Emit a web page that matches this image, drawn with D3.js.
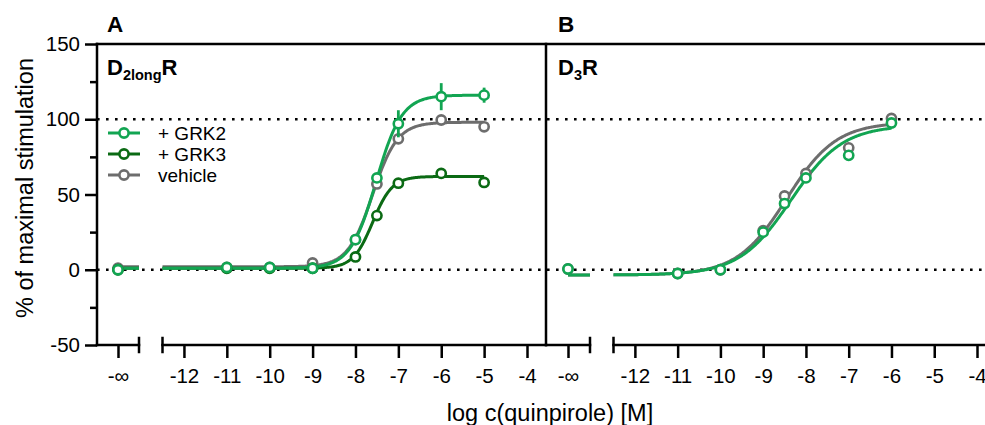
<!DOCTYPE html>
<html><head><meta charset="utf-8">
<script src="https://cdn.jsdelivr.net/npm/d3@7"></script>
<style>
html,body{margin:0;padding:0;background:#fff;}
svg{display:block;font-family:"Liberation Sans",Arial,Helvetica,sans-serif;}
</style></head>
<body><svg id="chart" width="985" height="425"></svg>
<script>
// ---------- DATA ----------
const seriesNames = ["+ GRK2", "+ GRK3", "vehicle"];
const seriesColors = ["#12a552", "#0b6a14", "#6d6d6d"];
const xTickLabels = [-12, -11, -10, -9, -8, -7, -6, -5, -4];
const yTickLabels = [-50, 0, 50, 100, 150];
const yMinorTicks = [-25, 25, 75, 125];
const infLabel = "-∞";

// Panel A: D2longR
const concA = ["-∞", -11, -10, -9, -8, -7.5, -7, -6, -5];
const grk2A = [0, 1.5, 1.5, 1, 20, 61, 97, 115, 116];
const grk2AErr = [0, 0, 0, 0, 0, 0, 9, 9, 5];
const grk3A = [0, 1, 1, 1, 8.5, 36, 57.5, 64, 58];
const vehA = [1, 1.5, 1.5, 4.5, 20, 57, 87, 99.5, 95];
// fitted sigmoid parameters [bottom, top, logEC50, hill]
const fitGrk2A = [1, 116, -7.52, 1.45];
const fitGrk3A = [1, 62, -7.6, 1.9];
const fitVehA = [2, 98, -7.6, 1.5];
const fitRangeA = [-12.5, -5];

// Panel B: D3R
const concB = ["-∞", -11, -10, -9, -8.5, -8, -7, -6];
const grk2B = [0.5, -2.5, 0, 25, 44, 61, 76, 97.5];
const vehB = [0.5, -2.5, 0, 26, 49, 64, 81, 100.5];
const fitGrk2B = [-3.5, 96, -8.35, 0.72];
const fitVehB = [-3.5, 98, -8.45, 0.75];
const fitRangeB = [-12.5, -6];

// ---------- DRAW ----------
const svg = d3.select("#chart");
const y = d3.scaleLinear().domain([-50, 150]).range([345, 44]);
const yBottom = y(-50), yTop = y(150);

const panels = [
  { left: 97, infEnd: 139, mainStart: 162.5, right: 546, axisEnd: 546, title: "A",
    recName: ["D", "2long", "R"], mainRange: [162.5, 527] },
  { left: 546, infEnd: 590, mainStart: 613.5, right: 985, axisEnd: 985, title: "B",
    recName: ["D", "3", "R"], mainRange: [613.5, 977] }
];
panels.forEach(p => {
  p.xMain = d3.scaleLinear().domain([-12.5, -4]).range(p.mainRange);
  p.xInf = d3.scalePoint().domain([infLabel]).range([p.left, p.infEnd]).padding(0.5);
  p.xPos = d => (d === "-∞" ? p.xInf(infLabel) : p.xMain(d));
});

const axisCol = "#000";
const sw = 2.5;

// dotted reference lines
[0, 100].forEach(v => {
  svg.append("line").attr("x1", 97).attr("x2", 985).attr("y1", y(v)).attr("y2", y(v))
    .attr("stroke", "#000").attr("stroke-width", 2.6).attr("stroke-dasharray", "2.6,6.4");
});

// frame lines
function ln(x1, y1, x2, y2) {
  svg.append("line").attr("x1", x1).attr("y1", y1).attr("x2", x2).attr("y2", y2)
    .attr("stroke", axisCol).attr("stroke-width", sw).attr("stroke-linecap", "square");
}
ln(97, yTop, 985, yTop);
ln(97, yTop, 97, yBottom);
ln(546, yTop, 546, yBottom);

panels.forEach(p => {
  // bottom axis segments with caps
  ln(p.left, yBottom, p.infEnd, yBottom);
  ln(p.infEnd, yBottom - 7, p.infEnd, yBottom + 7);
  ln(p.mainStart, yBottom, p.axisEnd, yBottom);
  ln(p.mainStart, yBottom - 7, p.mainStart, yBottom + 7);

  const gMain = svg.append("g").attr("transform", `translate(0,${yBottom})`)
    .call(d3.axisBottom(p.xMain).tickValues(xTickLabels).tickSize(13).tickPadding(10)
      .tickFormat(d => String(d).replace("−", "-")));
  const gInf = svg.append("g").attr("transform", `translate(0,${yBottom})`)
    .call(d3.axisBottom(p.xInf).tickSize(13).tickPadding(10));
  [gMain, gInf].forEach(g => {
    g.select(".domain").remove();
    g.selectAll(".tick line").attr("stroke", axisCol).attr("stroke-width", sw);
    g.selectAll(".tick text").attr("fill", "#000").attr("font-size", 20.5)
      .attr("font-family", "Liberation Sans, Arial, sans-serif");
  });

  // titles
  svg.append("text").attr("x", p.left + (p.title === "A" ? 10 : 12)).attr("y", 32)
    .attr("font-size", 22.5).attr("font-weight", "bold").text(p.title);
  const t = svg.append("text").attr("x", p.left + (p.title === "A" ? 10 : 12)).attr("y", 75)
    .attr("font-size", 22).attr("font-weight", "bold");
  t.append("tspan").text(p.recName[0]);
  t.append("tspan").attr("font-size", 14.5).attr("dy", 5).text(p.recName[1]);
  t.append("tspan").attr("dy", -5).text(p.recName[2]);
});

// y axis
const gy = svg.append("g").attr("transform", "translate(97,0)")
  .call(d3.axisLeft(y).tickValues(yTickLabels).tickSize(12).tickPadding(5));
gy.select(".domain").remove();
gy.selectAll(".tick line").attr("stroke", axisCol).attr("stroke-width", sw);
gy.selectAll(".tick text").attr("fill", "#000").attr("font-size", 20.5)
  .attr("font-family", "Liberation Sans, Arial, sans-serif")
  .text(d => String(d));
const gym = svg.append("g").attr("transform", "translate(97,0)")
  .call(d3.axisLeft(y).tickValues(yMinorTicks).tickSize(7).tickFormat(""));
gym.select(".domain").remove();
gym.selectAll(".tick line").attr("stroke", axisCol).attr("stroke-width", sw);

// axis titles
svg.append("text").attr("transform", "translate(33,188) rotate(-90)")
  .attr("text-anchor", "middle").attr("font-size", 23.5).text("% of maximal stimulation");
svg.append("text").attr("x", 550).attr("y", 421)
  .attr("text-anchor", "middle").attr("font-size", 23.5).text("log c(quinpirole) [M]");

// curves
function sig(par, x) {
  const [b, t, ec, h] = par;
  return b + (t - b) / (1 + Math.pow(10, (ec - x) * h));
}
function drawSeries(p, conc, vals, errs, fit, range, color) {
  const xs = d3.range(range[0], range[1] + 1e-9, 0.02);
  const line = d3.line().x(d => p.xMain(d)).y(d => y(sig(fit, d))).curve(d3.curveLinear);
  svg.append("path").datum(xs).attr("d", line).attr("fill", "none")
    .attr("stroke", color).attr("stroke-width", 3);
  // -inf baseline
  svg.append("line").attr("x1", p.xInf(infLabel)).attr("x2", p.infEnd)
    .attr("y1", y(fit[0])).attr("y2", y(fit[0]))
    .attr("stroke", color).attr("stroke-width", 3);
  return { p, conc, vals, errs, color };
}
function drawPoints(s) {
  const g = svg.append("g");
  if (s.errs) {
    g.selectAll("line.err").data(s.conc.map((c, i) => ({ c, v: s.vals[i], e: s.errs[i] })).filter(d => d.e > 0))
      .enter().append("line")
      .attr("x1", d => s.p.xPos(d.c)).attr("x2", d => s.p.xPos(d.c))
      .attr("y1", d => y(d.v - d.e)).attr("y2", d => y(d.v + d.e))
      .attr("stroke", s.color).attr("stroke-width", 2.8);
  }
  g.selectAll("circle").data(s.conc.map((c, i) => ({ c, v: s.vals[i] })))
    .enter().append("circle")
    .attr("cx", d => s.p.xPos(d.c)).attr("cy", d => y(d.v)).attr("r", 4.6)
    .attr("fill", "#fff").attr("stroke", s.color).attr("stroke-width", 2.6);
}

const pA = panels[0], pB = panels[1];
const sVehA = drawSeries(pA, concA, vehA, null, fitVehA, fitRangeA, seriesColors[2]);
const sGrk3A = drawSeries(pA, concA, grk3A, null, fitGrk3A, fitRangeA, seriesColors[1]);
const sGrk2A = drawSeries(pA, concA, grk2A, grk2AErr, fitGrk2A, fitRangeA, seriesColors[0]);
[sVehA, sGrk3A, sGrk2A].forEach(drawPoints);

const sVehB = drawSeries(pB, concB, vehB, null, fitVehB, fitRangeB, seriesColors[2]);
const sGrk2B = drawSeries(pB, concB, grk2B, null, fitGrk2B, fitRangeB, seriesColors[0]);
[sVehB, sGrk2B].forEach(drawPoints);

// legend
const legY = [133, 154, 175];
seriesNames.forEach((n, i) => {
  const g = svg.append("g").attr("transform", `translate(0,${legY[i]})`);
  g.append("line").attr("x1", 108).attr("x2", 140).attr("y1", 0).attr("y2", 0)
    .attr("stroke", seriesColors[i]).attr("stroke-width", 3);
  g.append("circle").attr("cx", 124).attr("cy", 0).attr("r", 4.6)
    .attr("fill", "#fff").attr("stroke", seriesColors[i]).attr("stroke-width", 2.6);
  g.append("text").attr("x", 158).attr("y", 6.5).attr("font-size", 19).text(n);
});
</script></body></html>
